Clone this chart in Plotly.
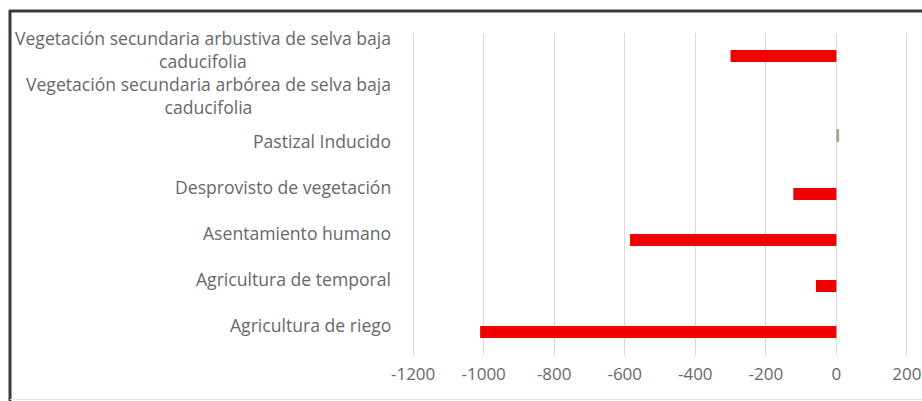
import plotly.graph_objects as go

# ---- data (bottom to top, as drawn) ----
categories = [
    "Agricultura de riego",
    "Agricultura de temporal",
    "Asentamiento humano",
    "Desprovisto de vegetación",
    "Pastizal Inducido",
    "Vegetación secundaria arbórea de selva baja<br>caducifolia",
    "Vegetación secundaria arbustiva de selva baja<br>caducifolia",
]
values = [-1010, -58, -585, -122, 0, 0, -300]
pastizal_category = ["Pastizal Inducido"]
pastizal_values = [8]
x_tick_values = [-1200, -1000, -800, -600, -400, -200, 0, 200]
x_range = [-1206, 206]

W, H = 922, 401
L, R, T, B = 411, 13, 33, 46
pw, ph = W - L - R, H - T - B

def px_x(p):
    return (p - L) / pw

def px_y(p):
    return (H - B - p) / ph

label_font = dict(family="Open Sans", size=17.6, color="#686868")

fig = go.Figure()
fig.add_trace(go.Bar(
    y=categories, x=values, orientation="h",
    marker=dict(color="#f00000", line=dict(width=0)),
    width=0.26, hoverinfo="x+y", showlegend=False,
))
fig.add_trace(go.Bar(
    y=pastizal_category, x=pastizal_values, orientation="h",
    marker=dict(color="#a9a98a", line=dict(width=0)),
    width=0.28, offset=0.13, showlegend=False,
))

annotations = []
for c in categories:
    annotations.append(dict(
        x=px_x(393), xref="paper", y=c, yref="y",
        xanchor="right", yanchor="middle", align="center",
        text=c, showarrow=False, font=label_font, yshift=7,
    ))

shapes = [
    dict(type="line", xref="paper", yref="paper",
         x0=px_x(10), x1=px_x(10), y0=px_y(10), y1=px_y(401),
         line=dict(color="#3a3a3a", width=3)),
    dict(type="line", xref="paper", yref="paper",
         x0=px_x(9), x1=px_x(930), y0=px_y(11), y1=px_y(11),
         line=dict(color="#3a3a3a", width=3)),
    dict(type="line", xref="paper", yref="paper",
         x0=px_x(10), x1=px_x(930), y0=px_y(399.5), y1=px_y(399.5),
         line=dict(color="#e6e6e6", width=1)),
]

fig.update_layout(
    template="none",
    width=W, height=H,
    margin=dict(l=L, r=R, t=T, b=B, pad=0, autoexpand=False),
    paper_bgcolor="white", plot_bgcolor="white",
    barmode="overlay",
    xaxis=dict(
        range=x_range, tickvals=x_tick_values,
        ticktext=[str(v) for v in x_tick_values],
        showgrid=True, gridcolor="#d9d9d9", gridwidth=1,
        zeroline=True, zerolinecolor="#d9d9d9", zerolinewidth=1,
        showline=False, ticks="outside", ticklen=4,
        tickcolor="rgba(0,0,0,0)", automargin=False,
        ticklabeloverflow="allow",
        tickfont=dict(family="Open Sans", size=17, color="#686868"),
        fixedrange=True,
    ),
    yaxis=dict(
        categoryorder="array", categoryarray=categories,
        range=[-0.5, len(categories) - 0.5], autorange=False,
        showticklabels=False, showgrid=False, zeroline=False,
        showline=False, ticks="", fixedrange=True, automargin=False,
    ),
    annotations=annotations,
    shapes=shapes,
)

fig.write_html("out.html")
